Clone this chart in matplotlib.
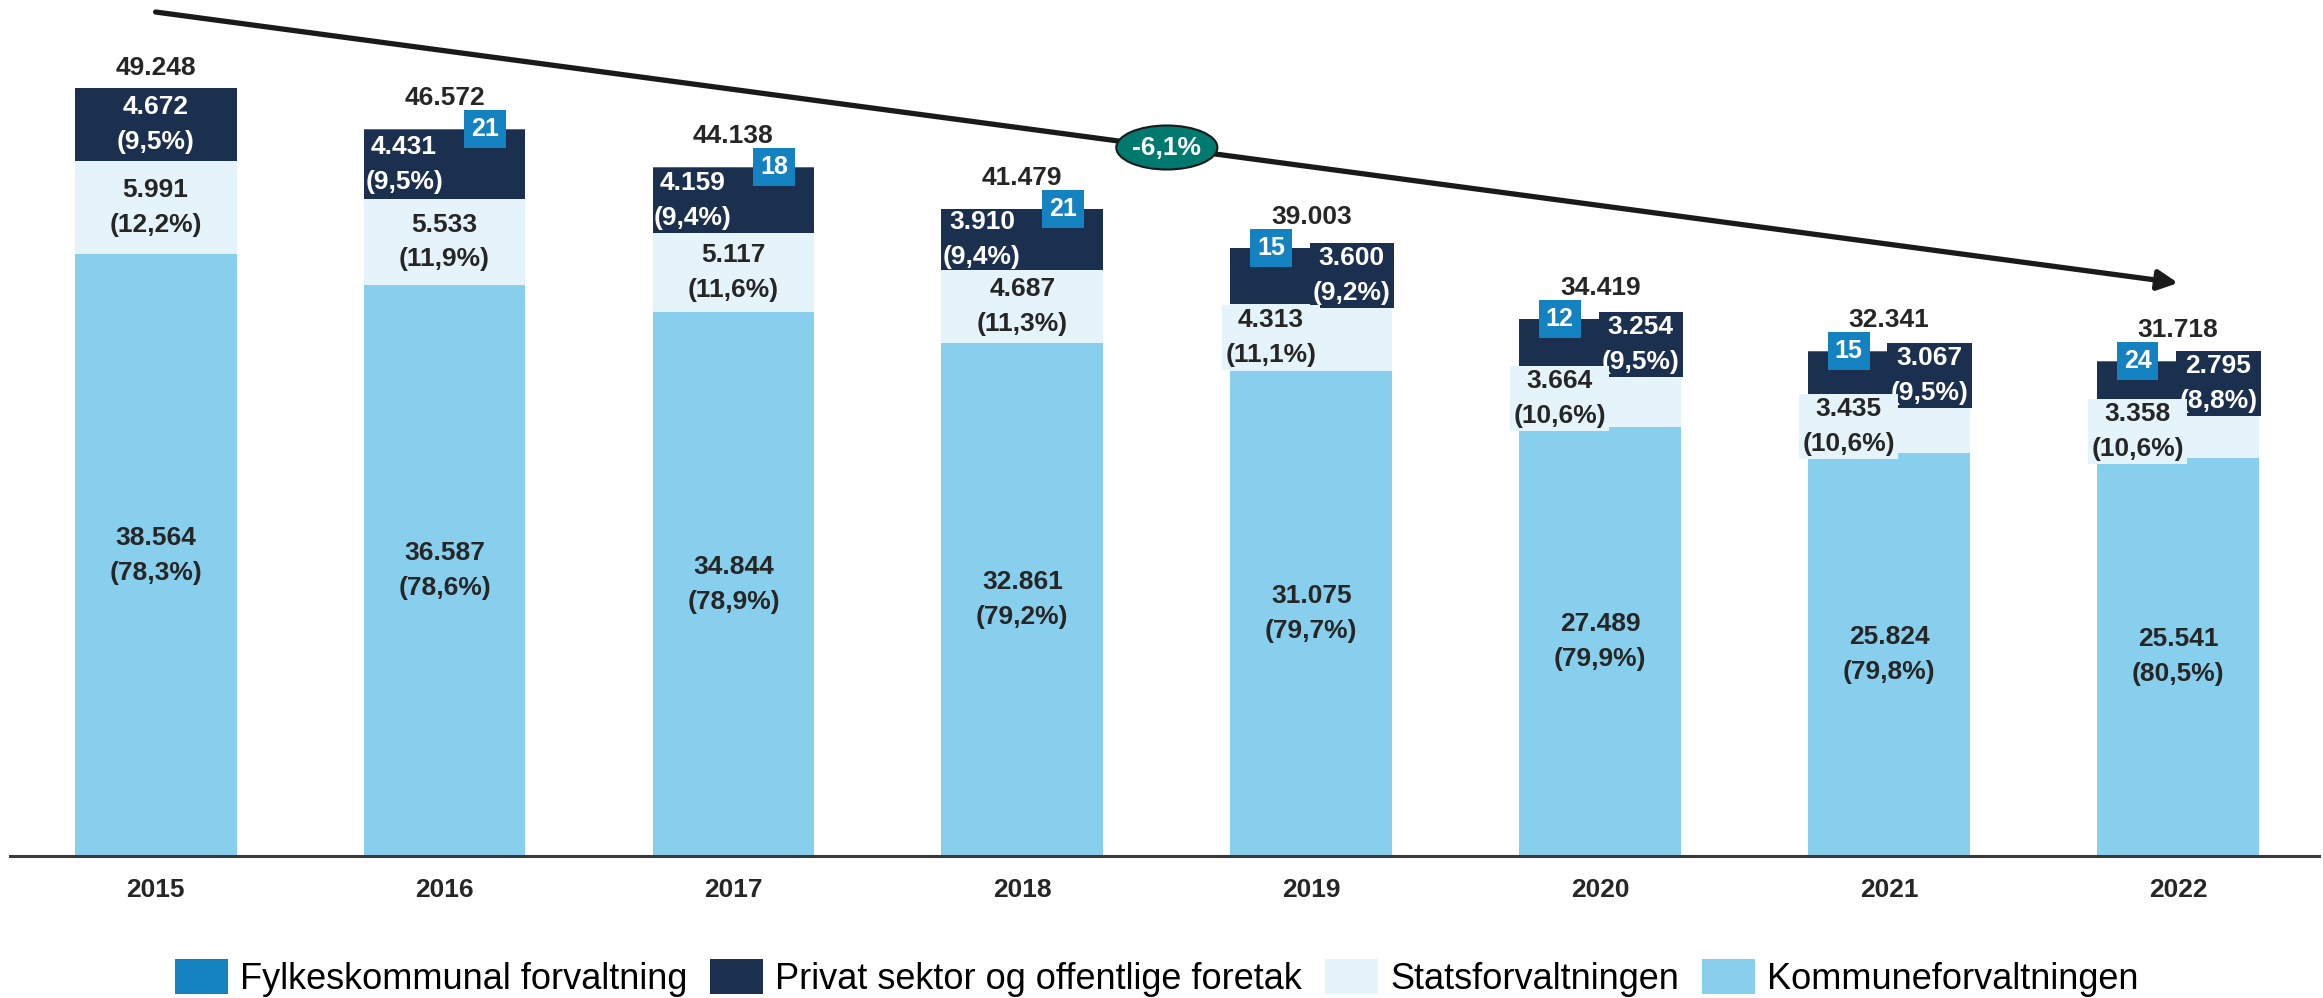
import matplotlib
matplotlib.use('Agg')
import matplotlib.pyplot as plt
from matplotlib.patches import Ellipse
import numpy as np

plt.rcParams['font.family'] = ['Liberation Sans', 'DejaVu Sans']

### DATA ###
years = ['2015', '2016', '2017', '2018', '2019', '2020', '2021', '2022']
kommune = [38564, 36587, 34844, 32861, 31075, 27489, 25824, 25541]
kommune_pct = ['78,3', '78,6', '78,9', '79,2', '79,7', '79,9', '79,8', '80,5']
stat = [5991, 5533, 5117, 4687, 4313, 3664, 3435, 3358]
stat_pct = ['12,2', '11,9', '11,6', '11,3', '11,1', '10,6', '10,6', '10,6']
privat = [4672, 4431, 4159, 3910, 3600, 3254, 3067, 2795]
privat_pct = ['9,5', '9,5', '9,4', '9,4', '9,2', '9,5', '9,5', '8,8']
fylke = [21, 21, 18, 21, 15, 12, 15, 24]
fylke_vist = [False, True, True, True, True, True, True, True]
endring = '-6,1%'

# side the privat label is pushed to (0 = centred)
side = [0, -1, -1, -1, 1, 1, 1, 1]

c_kom = '#87CFEC'
c_stat = '#E5F4FB'
c_priv = '#1B2F4E'
c_fylke = '#1482C0'
c_txt = '#262626'

def fmt(v):
    return f'{v:,}'.replace(',', '.')

x = np.arange(len(years))
kom = np.array(kommune)
st = np.array(stat)
pr = np.array(privat)
fy = np.array(fylke)
total = kom + st + pr + fy

fig = plt.figure(figsize=(23.23, 9.98), dpi=100)
ax = fig.add_axes([0.0043, 0.1423, 0.994, 0.8577])

w = 0.56
ax.bar(x, kom, w, color=c_kom, label='Kommuneforvaltningen')
ax.bar(x, st, w, bottom=kom, color=c_stat, label='Statsforvaltningen')
ax.bar(x, pr, w, bottom=kom + st, color=c_priv, label='Privat sektor og offentlige foretak')
ax.bar(x, fy, w, bottom=kom + st + pr, color=c_fylke, label='Fylkeskommunal forvaltning')

fs = 19
ls = 1.57
off = 0.14
for i in range(len(years)):
    # kommune
    ax.text(x[i], kom[i] / 2, f'{fmt(kom[i])}\n({kommune_pct[i]}%)', ha='center', va='center',
            fontsize=fs, fontweight='bold', color=c_txt, linespacing=ls, zorder=5)
    # stat
    dx = -off if side[i] > 0 else 0
    bb = dict(boxstyle='square,pad=0.12', fc=c_stat, ec='none') if side[i] > 0 else None
    ax.text(x[i] + dx, kom[i] + st[i] / 2, f'{fmt(st[i])}\n({stat_pct[i]}%)', ha='center', va='center',
            fontsize=fs, fontweight='bold', color=c_txt, linespacing=ls, bbox=bb, zorder=7)
    # privat
    bb = dict(boxstyle='square,pad=0.12', fc=c_priv, ec='none') if side[i] > 0 else None
    ax.text(x[i] + side[i] * off, kom[i] + st[i] + pr[i] / 2, f'{fmt(pr[i])}\n({privat_pct[i]}%)',
            ha='center', va='center', fontsize=fs, fontweight='bold', color='white',
            linespacing=ls, bbox=bb, zorder=6)
    # fylke
    if fylke_vist[i]:
        ax.text(x[i] - side[i] * off, total[i], str(fy[i]), ha='center', va='center',
                fontsize=18, fontweight='bold', color='white',
                bbox=dict(boxstyle='square,pad=0.28', fc=c_fylke, ec='none'), zorder=8)
    # total
    ax.annotate(fmt(total[i]), (x[i], total[i]), xytext=(0, 31 if fylke_vist[i] else 20),
                textcoords='offset pixels', ha='center', va='center',
                fontsize=fs, fontweight='bold', color=c_txt)

ax.set_xlim(-0.504, 7.488)
ax.set_ylim(0, 54870)

# trend arrow
y0, y1 = 54100, 36730
ax.annotate('', xy=(7, y1), xytext=(0, y0),
            arrowprops=dict(arrowstyle='-|>,head_length=1.2,head_width=0.6', lw=3.8,
                            color='#1a1a1a', shrinkA=0, shrinkB=0), zorder=9)
ax.add_patch(Ellipse((3.5, (y0 + y1) / 2), 0.35, 2820, fc='#007A6E', ec='#1a1a1a', lw=1.5, zorder=10))
ax.text(3.5, (y0 + y1) / 2, endring, ha='center', va='center', fontsize=fs,
        fontweight='bold', color='white', zorder=11)

ax.set_xticks(x)
ax.set_xticklabels(years, fontsize=fs, fontweight='bold', color=c_txt)
ax.tick_params(axis='x', length=0, pad=16)
ax.set_yticks([])
for s in ['top', 'right', 'left']:
    ax.spines[s].set_visible(False)
ax.spines['bottom'].set_color('#3a3a3a')
ax.spines['bottom'].set_linewidth(2.2)

h, l = ax.get_legend_handles_labels()
fig.legend(h[::-1], l[::-1], loc='center', bbox_to_anchor=(0.498, 0.02), ncol=4,
           frameon=False, fontsize=26, handlelength=1.47, handleheight=1.08,
           handletextpad=0.33, columnspacing=0.64, borderpad=0)

fig.savefig('out.png', dpi=100)
